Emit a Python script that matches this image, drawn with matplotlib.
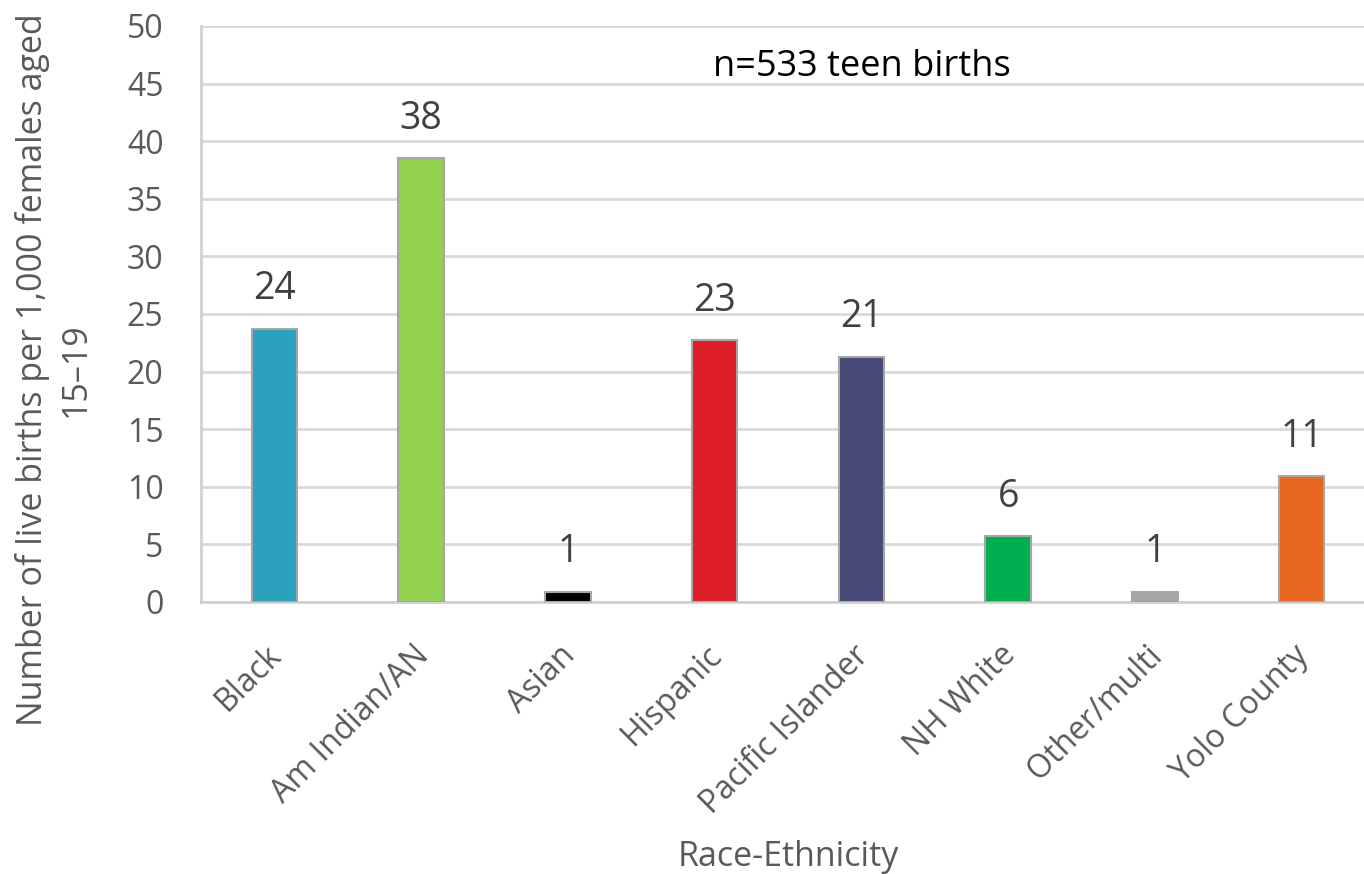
import matplotlib
matplotlib.use("Agg")
from matplotlib import pyplot as plt
from matplotlib.transforms import ScaledTranslation

categories = ["Black", "Am Indian/AN", "Asian", "Hispanic", "Pacific Islander",
              "NH White", "Other/multi", "Yolo County"]
rates = [23.7, 38.5, 0.9, 22.7, 21.3, 5.7, 0.9, 10.9]
value_labels = ["24", "38", "1", "23", "21", "6", "1", "11"]
bar_colors = ["#2ca1be", "#92d050", "#000000", "#dc1f26", "#464a75",
              "#00b050", "#a6a6a6", "#e8661f"]
y_ticks = [0, 5, 10, 15, 20, 25, 30, 35, 40, 45, 50]

plt.rcParams["font.family"] = ["Open Sans", "DejaVu Sans"]
text_gray = "#595959"

fig = plt.figure(figsize=(13.64, 8.74), dpi=100)
W, H = 1364, 874
ax = fig.add_axes([201 / W, 1 - 602 / H, (1375 - 201) / W, (602 - 26) / H])

x = list(range(len(categories)))
ax.bar(x, rates, width=0.31, color=bar_colors, edgecolor="#a6a6a6",
       linewidth=1.5, zorder=3)

for xi, v, lab in zip(x, rates, value_labels):
    ax.annotate(lab, (xi, v), xytext=(0, 15), textcoords="offset points",
                ha="center", va="bottom", fontsize=27, color="#404040")

ax.set_xlim(-0.5, 7.5)
ax.set_ylim(0, 50)
ax.set_yticks(y_ticks)
ax.tick_params(axis="y", length=0, pad=27, labelsize=23, labelcolor=text_gray)
ax.tick_params(axis="x", length=0, pad=10)
ax.set_xticks(x)
ax.set_xticklabels(categories, rotation=45, ha="right", rotation_mode="anchor",
                   fontsize=23, color=text_gray)
shift = ScaledTranslation(-0.09, -0.23, fig.dpi_scale_trans)
for lbl in ax.get_xticklabels():
    lbl.set_transform(lbl.get_transform() + shift)

ax.grid(axis="y", color="#d9d9d9", linewidth=2, zorder=0)

for s in ["top", "right"]:
    ax.spines[s].set_visible(False)
for s in ["left", "bottom"]:
    ax.spines[s].set_color("#d0d0d0")
    ax.spines[s].set_linewidth(2)

ax.text(0.563, 0.929, "n=533 teen births", transform=ax.transAxes,
        ha="center", va="center", fontsize=26, color="black")

fig.text(54 / W, 1 - 370 / H, "Number of live births per 1,000 females aged\n15\u201319",
         rotation=90, ha="center", va="center", ma="center", linespacing=1.35,
         fontsize=24.5, color=text_gray)
fig.text(788 / W, 1 - 857 / H, "Race-Ethnicity", ha="center", va="center",
         fontsize=24.5, color=text_gray)

fig.savefig("out.png", dpi=100)
